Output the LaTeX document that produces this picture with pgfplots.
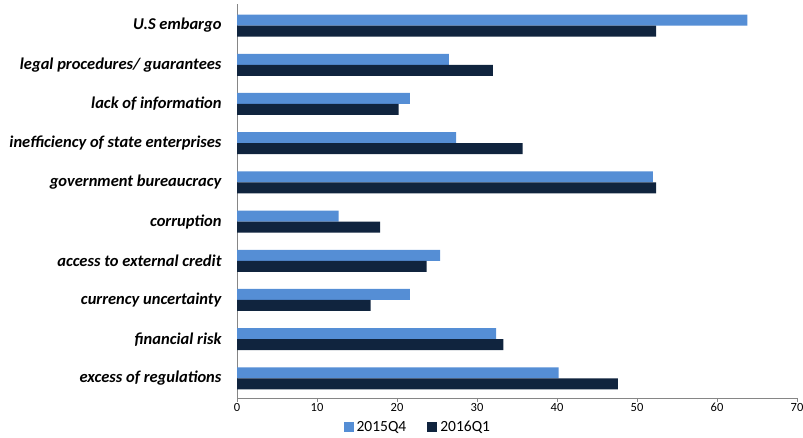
\documentclass[border=0pt]{standalone}
\usepackage{fontspec}
\setmainfont{Carlito}
\usepackage{pgfplots}
\pgfplotsset{compat=1.18}
\definecolor{lb}{HTML}{558ED5}
\definecolor{db}{HTML}{10243E}
\definecolor{axc}{HTML}{868686}
\begin{document}
\begin{tikzpicture}
\path[use as bounding box] (0,0) rectangle (803pt,438pt);
\begin{axis}[
  at={(237pt,40pt)}, anchor=south west,
  scale only axis, width=560pt, height=394pt,
  xbar, bar width=11pt,
  xmin=0, xmax=70, ymin=-0.5, ymax=9.55,
  axis lines*=left,
  axis line style={axc, line width=0.8pt},
  every tick/.style={axc, line width=0.8pt},
  tick align=outside,
  xtick={0,10,...,70},
  major tick length=4pt,
  ytick={0,...,9},
  yticklabels={excess of regulations, financial risk, currency uncertainty, access to external credit, corruption, government bureaucracy, inefficiency of state enterprises, lack of information, legal procedures/ guarantees, U.S embargo},
  y tick label style={font=\fontsize{16.5}{18}\selectfont\bfseries\itshape, xshift=-8pt},
  ytick style={draw=none},
  extra y ticks={-0.5,0.5,...,8.5,9.55},
  extra y tick labels={},
  extra y tick style={tick style={axc, line width=0.8pt, draw=axc}, major tick length=5pt},
  x tick label style={font=\fontsize{12.5}{14}\selectfont, yshift=2pt},
  /pgf/number format/assume math mode=true,
  legend style={at={(axis description cs:0.322,-0.074)}, anchor=center, draw=none, fill=none,
    legend columns=2, font=\fontsize{15.5}{17}\selectfont, inner sep=0pt,
    nodes={inner sep=1pt},
    /tikz/every odd column/.append style={column sep=2pt},
    /tikz/every even column/.append style={column sep=20pt}},
  legend image code/.code={\fill[#1] (0pt,-5pt) rectangle (10pt,5pt);},
  clip=false,
]
\addplot[fill=lb, draw=none, bar shift=5.5pt] coordinates {
(40.2,0) (32.4,1) (21.6,2) (25.4,3) (12.7,4) (52.0,5) (27.4,6) (21.6,7) (26.5,8) (63.8,9)};
\addlegendentry{2015Q4}
\addplot[fill=db, draw=none, bar shift=-5.5pt] coordinates {
(47.6,0) (33.3,1) (16.7,2) (23.7,3) (17.9,4) (52.4,5) (35.7,6) (20.2,7) (32.0,8) (52.4,9)};
\addlegendentry{2016Q1}
\end{axis}
\end{tikzpicture}
\end{document}
